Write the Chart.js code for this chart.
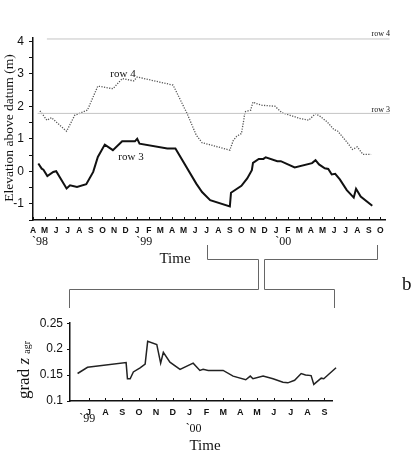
<!DOCTYPE html>
<html>
<head>
<meta charset="utf-8">
<script src="https://cdn.jsdelivr.net/npm/chart.js@4.4.1/dist/chart.umd.min.js"></script>
<style>
html, body { margin: 0; padding: 0; background: #fff; }
#wrap { position: relative; width: 414px; height: 458px; overflow: hidden; }
canvas { position: absolute; left: 0; }
#top { top: 0; }
#bottom { top: 312px; }
</style>
</head>
<body>
<div id="wrap">
  <canvas id="top" width="414" height="312"></canvas>
  <canvas id="bottom" width="414" height="146"></canvas>
</div>
<script>
// months counted from April 1998 (0) for the upper panel
const topMonths = ['A','M','J','J','A','S','O','N','D','J','F','M','A','M','J','J','A','S','O','N','D','J','F','M','A','M','J','J','A','S','O'];
const topYears = ['`98', '`99', '`00'];
const topYearAt = [0, 9, 21];
const elevTicks = [-1.5, -1, -0.5, 0, 0.5, 1, 1.5, 2, 2.5, 3, 3.5, 4];

const row4Months = [0.6,1.2,1.6,2.9,3.6,4.7,5.6,6.9,7.7,8.7,9.0,12.1,13.3,14.1,14.6,17.0,17.3,17.6,18.0,18.2,18.3,18.8,19.0,19.3,19.8,20.9,21.5,23.1,23.8,24.4,24.8,25.4,26.0,26.3,27.1,27.6,28.0,28.5,29.2];
const row4Elev   = [1.86,1.57,1.65,1.23,1.72,1.88,2.62,2.54,2.85,2.78,2.9,2.65,1.78,1.11,0.88,0.65,0.95,1.08,1.16,1.57,1.83,1.88,2.13,2.08,2.03,2.0,1.8,1.62,1.57,1.77,1.69,1.52,1.28,1.24,0.9,0.67,0.75,0.52,0.52];

const row3Months = [0.46,0.75,0.9,1.24,1.75,2.0,2.9,3.2,3.8,4.6,5.2,5.6,6.2,6.9,7.7,8.8,9.0,9.2,11.6,12.3,14.1,14.6,15.3,17.0,17.1,18.0,18.5,18.9,19.0,19.5,19.9,20.1,21.1,21.4,22.6,24.1,24.4,24.7,25.2,25.5,25.8,26.1,26.5,27.1,27.7,27.9,28.3,29.3];
const row3Elev   = [0.24,0.08,0.05,-0.15,-0.02,0.0,-0.53,-0.43,-0.48,-0.40,-0.02,0.44,0.82,0.65,0.92,0.92,1.0,0.85,0.70,0.70,-0.38,-0.64,-0.89,-1.08,-0.66,-0.45,-0.22,0.03,0.26,0.38,0.38,0.43,0.31,0.31,0.12,0.25,0.34,0.21,0.09,0.07,-0.1,-0.08,-0.25,-0.58,-0.81,-0.54,-0.78,-1.06];

// surface levels of the two rows
const row4Level = 4.07;
const row3Level = 1.78;
const row4LevelSpan = [1.2, 30.8];
const row3LevelSpan = [0.4, 30.8];

// months counted from July 1999 (0) for the lower panel
const botMonths = ['J','A','S','O','N','D','J','F','M','A','M','J','J','A','S'];
const botYears = ['`99', '`00'];
const botYearAt = [-0.55, 6];
const gradTicks = [0.1, 0.15, 0.2, 0.25];

const gradMonths = [-0.65,-0.06,2.23,2.31,2.47,2.66,3.06,3.36,3.51,4.05,4.28,4.44,4.83,5.43,6.21,6.61,6.8,7.1,7.99,8.58,9.33,9.6,9.76,10.36,10.95,11.54,11.83,12.23,12.62,12.88,13.21,13.37,13.81,13.96,14.69];
const gradValues = [0.153,0.165,0.174,0.143,0.143,0.156,0.164,0.171,0.215,0.209,0.173,0.194,0.175,0.161,0.173,0.159,0.161,0.159,0.159,0.148,0.141,0.148,0.143,0.148,0.143,0.136,0.135,0.140,0.153,0.150,0.149,0.132,0.144,0.143,0.164];

const ink = '#111';
const sans = '"Liberation Sans", Arial, sans-serif';
const serif = '"Liberation Serif", "Times New Roman", serif';

function pts(xs, ys) { return xs.map((x, i) => ({x: x, y: ys[i]})); }

function innerTicks(chart, len) {
  const ctx = chart.ctx, xs = chart.scales.x;
  ctx.save();
  ctx.strokeStyle = ink;
  ctx.lineWidth = 1;
  xs.ticks.forEach(t => {
    const px = Math.round(xs.getPixelForValue(t.value)) + 0.5;
    ctx.beginPath();
    ctx.moveTo(px, xs.top);
    ctx.lineTo(px, xs.top - len);
    ctx.stroke();
  });
  ctx.restore();
}

function line(ctx, p) {
  ctx.beginPath();
  ctx.moveTo(p[0][0], p[0][1]);
  for (let i = 1; i < p.length; i++) ctx.lineTo(p[i][0], p[i][1]);
  ctx.stroke();
}

const topDecor = {
  id: 'topDecor',
  afterDraw(chart) {
    const ctx = chart.ctx, xs = chart.scales.x, ys = chart.scales.y;
    innerTicks(chart, 3);
    ctx.save();
    ctx.fillStyle = ink;
    ctx.textBaseline = 'alphabetic';

    ctx.font = '12px ' + serif;
    ctx.textAlign = 'left';
    topYears.forEach((t, i) => ctx.fillText(t, xs.getPixelForValue(topYearAt[i]) - 1, 245));

    ctx.font = '15px ' + serif;
    ctx.textAlign = 'center';
    ctx.fillText('Time', 175, 263);

    ctx.font = '11px ' + serif;
    ctx.fillText('row 4', 123, 77);
    ctx.fillText('row 3', 131, 160);
    ctx.font = '8px ' + serif;
    ctx.textAlign = 'right';
    ctx.fillText('row 4', 390, ys.getPixelForValue(row4Level) - 3);
    ctx.fillText('row 3', 390, ys.getPixelForValue(row3Level) - 1);

    ctx.save();
    ctx.translate(13, 128);
    ctx.rotate(-Math.PI / 2);
    ctx.textAlign = 'center';
    ctx.font = '13.5px ' + serif;
    ctx.fillText('Elevation above datum (m)', 0, 0);
    ctx.restore();

    ctx.font = '19px ' + serif;
    ctx.textAlign = 'left';
    ctx.fillText('b', 402, 290);

    // brackets linking the July 1999 - October 2000 span to the lower panel
    const a = Math.round(xs.getPixelForValue(15)) + 0.5;
    const b = Math.round(xs.getPixelForValue(29.7)) + 0.5;
    ctx.strokeStyle = '#666';
    ctx.lineWidth = 1;
    line(ctx, [[a, 245], [a, 259.5], [258.5, 259.5], [258.5, 289.5]]);
    line(ctx, [[b, 245], [b, 259.5], [264.5, 259.5], [264.5, 289.5]]);
    line(ctx, [[69.5, 308], [69.5, 289.5], [258.5, 289.5]]);
    line(ctx, [[264.5, 289.5], [334.5, 289.5], [334.5, 308]]);
    ctx.restore();
  }
};

const botDecor = {
  id: 'botDecor',
  afterDraw(chart) {
    const ctx = chart.ctx, xs = chart.scales.x;
    innerTicks(chart, 3);
    ctx.save();
    ctx.fillStyle = ink;
    ctx.font = '12px ' + serif;
    ctx.textAlign = 'left';
    ctx.fillText(botYears[0], xs.getPixelForValue(botYearAt[0]), 110);
    ctx.fillText(botYears[1], xs.getPixelForValue(botYearAt[1]) - 4, 120);

    ctx.font = '15px ' + serif;
    ctx.textAlign = 'center';
    ctx.fillText('Time', 205, 138);

    // rotated "grad z agr" title with italic z and smaller subscript
    const big = '17px ' + serif, ital = 'italic 17px ' + serif, small = '10px ' + serif;
    ctx.font = big; const w1 = ctx.measureText('grad ').width;
    ctx.font = ital; const w2 = ctx.measureText('z ').width;
    ctx.font = small; const w3 = ctx.measureText('agr').width;
    const total = w1 + w2 + w3;
    ctx.translate(29, 58);
    ctx.rotate(-Math.PI / 2);
    ctx.textAlign = 'left';
    let x0 = -total / 2;
    ctx.font = big; ctx.fillText('grad ', x0, 0); x0 += w1;
    ctx.font = ital; ctx.fillText('z ', x0, 0); x0 += w2;
    ctx.font = small; ctx.fillText('agr', x0, 1);
    ctx.restore();
  }
};

new Chart(document.getElementById('top'), {
  type: 'line',
  data: {
    datasets: [
      { data: pts(row4LevelSpan, [row4Level, row4Level]), borderColor: '#c4c4c4', borderWidth: 1, clip: false },
      { data: pts(row3LevelSpan, [row3Level, row3Level]), borderColor: '#c4c4c4', borderWidth: 1, clip: false },
      { data: pts(row4Months, row4Elev), borderColor: '#555', borderWidth: 1.3, borderDash: [1.2, 1.4] },
      { data: pts(row3Months, row3Elev), borderColor: ink, borderWidth: 2 }
    ]
  },
  options: {
    responsive: false,
    animation: false,
    devicePixelRatio: 1,
    layout: { padding: { left: 0, top: 38, right: 29, bottom: 72 } },
    plugins: { legend: { display: false }, tooltip: { enabled: false } },
    elements: { point: { radius: 0 }, line: { tension: 0 } },
    scales: {
      x: {
        type: 'linear', min: 0, max: 30.4,
        afterFit: s => { s.height = 20; },
        afterBuildTicks: s => { s.ticks = topMonths.map((_, i) => ({ value: i })); },
        ticks: { autoSkip: false, maxRotation: 0, padding: 6, color: ink,
                 font: { family: sans, size: 8.5, weight: 'bold' },
                 callback: v => topMonths[v] },
        grid: { drawOnChartArea: false, drawTicks: false },
        border: { color: ink, width: 1.5 }
      },
      y: {
        min: -1.5, max: 4.1,
        afterFit: s => { s.width = 33; },
        afterBuildTicks: s => { s.ticks = elevTicks.map(v => ({ value: v })); },
        ticks: { autoSkip: false, padding: 5, color: ink, font: { family: sans, size: 12 },
                 callback: v => Number.isInteger(v) ? String(v) : '' },
        grid: { drawOnChartArea: false, tickLength: 4, tickColor: ink },
        border: { color: ink, width: 1.5 }
      }
    }
  },
  plugins: [topDecor]
});

new Chart(document.getElementById('bottom'), {
  type: 'line',
  data: {
    datasets: [
      { data: pts(gradMonths, gradValues), borderColor: '#222', borderWidth: 1.5, clip: false }
    ]
  },
  options: {
    responsive: false,
    animation: false,
    devicePixelRatio: 1,
    layout: { padding: { left: 0, top: 10, right: 82, bottom: 37 } },
    plugins: { legend: { display: false }, tooltip: { enabled: false } },
    elements: { point: { radius: 0 }, line: { tension: 0 } },
    scales: {
      x: {
        type: 'linear', min: -1.1, max: 14.45,
        afterFit: s => { s.height = 20; },
        afterBuildTicks: s => { s.ticks = botMonths.map((_, i) => ({ value: i })); },
        ticks: { autoSkip: false, maxRotation: 0, padding: 6, color: ink,
                 font: { family: sans, size: 9, weight: 'bold' },
                 callback: v => botMonths[v] },
        grid: { drawOnChartArea: false, drawTicks: false },
        border: { color: ink, width: 1.5 }
      },
      y: {
        min: 0.1, max: 0.25,
        afterFit: s => { s.width = 70; },
        afterBuildTicks: s => { s.ticks = gradTicks.map(v => ({ value: v })); },
        ticks: { autoSkip: false, padding: 4, color: ink, font: { family: sans, size: 12 },
                 callback: v => String(v) },
        grid: { drawOnChartArea: false, tickLength: 3, tickColor: ink },
        border: { color: ink, width: 1.5 }
      }
    }
  },
  plugins: [botDecor]
});
</script>
</body>
</html>
